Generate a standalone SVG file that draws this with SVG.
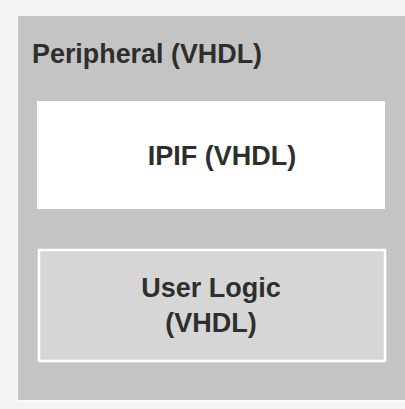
<svg xmlns="http://www.w3.org/2000/svg" width="405" height="409" viewBox="0 0 405 409">
<style>
.t{font-family:"Liberation Sans",Arial,sans-serif;font-weight:bold;fill:#2e2e2e;font-size:27px}
</style>
<rect width="405" height="409" fill="#f4f4f4"/>
<g id="peripheral">
<rect x="18" y="16" width="387" height="385" fill="#c4c4c4"/>
<line x1="18" y1="401" x2="405" y2="401" stroke="#fafafa" stroke-width="2"/>
<text class="t" x="32" y="63" textLength="230" lengthAdjust="spacingAndGlyphs">Peripheral (VHDL)</text>
</g>
<g id="ipif">
<rect x="37" y="101" width="348" height="108" fill="#ffffff"/>
<text class="t" x="222" y="165" text-anchor="middle">IPIF (VHDL)</text>
</g>
<g id="userlogic">
<rect x="39" y="250" width="346" height="111" fill="#d6d6d6" stroke="#ffffff" stroke-width="2.5"/>
<text class="t" x="211" y="297" text-anchor="middle">User Logic</text>
<text class="t" x="211" y="332" text-anchor="middle">(VHDL)</text>
</g>
<g id="connectors"/>
</svg>
